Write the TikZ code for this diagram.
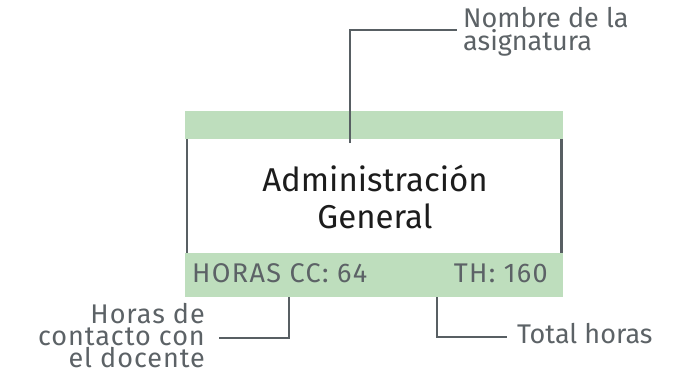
\documentclass[tikz,border=0pt]{standalone}
\usepackage{fontspec}
\setmainfont{Fira Sans}
\newfontfamily\bandfont[LetterSpace=5]{Fira Sans}
\newfontfamily\leftfont[LetterSpace=3.5]{Fira Sans}
\usetikzlibrary{calc}
\definecolor{bandgreen}{RGB}{190,222,189}
\definecolor{leadgray}{RGB}{88,95,99}
\definecolor{txtgray}{RGB}{92,98,102}
\definecolor{maintxt}{RGB}{28,28,28}
\tikzset{
  band/.style={fill=bandgreen, draw=none, inner sep=0pt, anchor=north west},
  leader/.style={draw=leadgray, line width=2.8pt},
  small/.style={text=txtgray, inner sep=0pt, font=\fontsize{27}{21}\selectfont},
  title/.style={text=maintxt, inner sep=0pt, align=center, font=\fontsize{33}{37}\selectfont}
}
\begin{document}
\begin{tikzpicture}[x=1pt,y=-1pt]
\useasboundingbox (0,0) rectangle (689,376);
% bands
\node[band, minimum width=378pt, minimum height=28pt] (topband) at (185,111) {};
\node[band, minimum width=378pt, minimum height=44pt] (botband) at (185,253) {};
% side lines
\draw[leader] ([xshift=2pt]topband.south west) -- ([xshift=2pt]botband.north west);
\draw[leader] ([xshift=-2pt]topband.south east) -- ([xshift=-2pt]botband.north east);
% title (base = last line)
\node[title, anchor=base] (titl) at (375,228) {Administración\\General};
% band texts
\node[small, anchor=base west, font=\bandfont\fontsize{27}{21}\selectfont] (hcc) at (192,282) {HORAS CC: 64};
\node[small, anchor=base east, font=\bandfont\fontsize{27}{21}\selectfont] (th) at (548,282) {TH: 160};
% top label
\node[small, anchor=base west, align=left, font=\fontsize{27}{23}\selectfont] (nombre) at (463,50) {Nombre de la\\asignatura};
\coordinate (topfoot) at (350,143);
\coordinate (topcorner) at (350,30);
\draw[leader] (topfoot) -- (topcorner) -- ([xshift=-6pt]topcorner -| nombre.west);
% left label
\node[small, anchor=base east, align=right, font=\leftfont\fontsize{27}{22}\selectfont] (horas) at (205,367) {Horas de\\contacto con\\el docente};
\coordinate (lcorner) at (289,338);
\draw[leader] (lcorner |- botband.south) -- (lcorner) -- ++(-70,0) coordinate (lend);
% right label
\node[small, anchor=base west] (total) at (517,343) {Total horas};
\coordinate (rcorner) at (437,337);
\draw[leader] (rcorner |- botband.south) -- (rcorner) -- ([xshift=-10pt]rcorner -| total.west);
\end{tikzpicture}
\end{document}
